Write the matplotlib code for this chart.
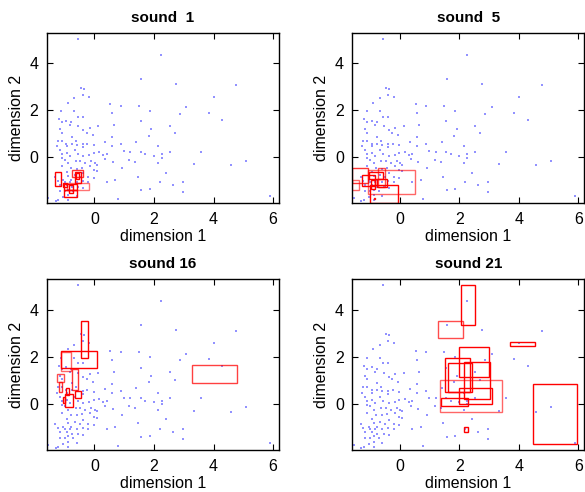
import matplotlib
matplotlib.use("Agg")
import matplotlib.pyplot as plt
from matplotlib.patches import Rectangle

plt.rcParams['font.family'] = ['Liberation Sans', 'DejaVu Sans']

# scatter cloud (same in every panel)
pts_x = [-0.56, -0.45, -0.36,
         -0.90, -0.68, -0.39, -0.19, 0.53, -1.11, -0.68, 0.58, -0.56, -0.39, -1.19, -0.94, -1.10, -0.78,
         -0.82, -0.54, -0.15, 0.13, 0.66, -1.16, -0.37, -0.26, -1.10, -0.06, -0.76, 0.58, -1.24, -1.10,
         -0.63, -0.95, -0.75, -0.60, -0.39, -0.24, -0.03, 0.34, 0.58, -1.27, -0.92, -0.39,
         -1.16, -1.10, -0.92, -0.82, -0.65, -0.56, -0.37, -0.17, -0.03, 0.16, 0.30, 0.41, 0.36, -1.10,
         -0.99, -0.88, -0.62, -0.48, -0.31, -0.11, 0.02, 0.08, 0.62, -1.10, -0.80, -0.60, -0.43, -0.15,
         -0.03, 0.08, -0.37, -0.93, -0.65, -0.88, -0.50, -0.20, -0.03, -1.32, -1.05, -0.78, -1.24, -0.99,
         -0.82, -0.60, -0.40, -0.20, 0.41, 0.70, -1.16, -0.93, -0.76, -0.54, -0.37, -1.16, -0.99, -0.88,
         -0.71, -0.88, -0.60, -1.04, -1.21, -1.55, -1.29, -0.88,
         2.24, 1.58, 2.75, 4.76, 4.00, 0.88, 1.49, 3.09, 1.87, 2.87, 3.84, 4.30,
         1.55, 1.91, 2.54, 1.83, 2.70, 0.88, 1.41, 2.15, 0.99, 1.20, 1.55, 1.71, 2.00, 2.26, 2.54, 2.26,
         1.17, 1.37, 2.15, 3.34, 0.91, 2.41, 1.46, 2.20, 2.96, 2.63, 1.87, 1.58, 2.96, 0.78,
         3.58, 5.09, 4.59, 5.88]
pts_y = [5.03, 2.95, 2.91,
         2.33, 2.52, 2.66, 2.57, 2.27, 1.96, 1.96, 1.88, 1.74, 1.74, 1.63, 1.57, 1.49, 1.49,
         1.36, 1.33, 1.26, 1.32, 1.36, 1.20, 1.15, 1.06, 1.06, 0.95, 0.89, 0.85, 0.72, 0.72,
         0.71, 0.58, 0.58, 0.54, 0.57, 0.58, 0.51, 0.64, 0.47, 0.47, 0.47, 0.43,
         0.32, 0.14, 0.18, 0.04, 0.32, 0.14, 0.04, 0.11, 0.18, 0.21, 0.11, 0.14, -0.06, -0.03,
         -0.10, -0.24, -0.17, -0.17, -0.24, -0.17, -0.24, -0.31, -0.20, -0.38, -0.46, -0.48, -0.43, -0.38,
         -0.53, -0.60, -0.67, -0.63, -0.74, -0.81, -0.85, -0.85, -0.88, -0.84, -0.95, -0.95, -1.02, -1.05,
         -1.05, -1.06, -1.02, -1.06, -1.06, -0.95, -1.16, -1.18, -1.28, -1.28, -1.31, -1.42, -1.42, -1.37,
         -1.45, -1.59, -1.63, -1.70, -1.80, -1.73, -1.85, -1.80,
         4.37, 3.35, 3.13, 3.09, 2.57, 2.20, 2.20, 2.14, 1.99, 1.87, 1.89, 1.60,
         1.55, 1.19, 1.35, 0.92, 1.03, 0.55, 0.67, 0.47, 0.28, 0.24, 0.24, 0.13, 0.07, 0.13, 0.24, -0.01,
         -0.09, -0.18, -0.23, -0.28, -0.44, -0.65, -0.82, -1.04, -1.04, -1.19, -1.33, -1.40, -1.49, -1.76,
         0.24, -0.14, -0.34, -1.66]

titles = ["sound  1", "sound  5", "sound 16", "sound 21"]

# rectangles: (x0, y0, x1, y1, alpha)
rects_1 = [(-1.31, -1.21, -1.11, -0.61, 1.0), (-0.74, -0.82, -0.39, -0.54, 0.8),
           (-0.66, -1.11, -0.44, -0.61, 1.0), (-0.62, -0.94, -0.51, -0.68, 1.0),
           (-1.07, -1.28, -0.91, -1.08, 1.0), (-1.02, -1.39, -0.60, -1.13, 1.0),
           (-0.91, -1.39, -0.17, -1.11, 0.55), (-1.01, -1.67, -0.60, -1.39, 1.0),
           (-0.84, -1.50, -0.71, -1.19, 1.0)]
rects_5 = [(-1.61, -1.11, -1.07, -0.43, 0.8), (-1.62, -1.39, -1.36, -0.96, 0.6),
           (-1.27, -1.22, -0.85, -0.75, 1.0), (-1.07, -1.56, 0.51, -0.54, 0.6),
           (-0.99, -1.96, -0.05, -1.18, 1.0), (-1.05, -0.94, -0.57, -0.61, 1.0),
           (-0.74, -1.25, -0.51, -0.47, 0.7), (-0.76, -1.28, -0.42, -0.94, 1.0),
           (-0.97, -1.36, -0.82, -0.96, 1.0), (-0.88, -1.78, -0.82, -1.71, 1.0)]
rects_16 = [(-0.44, 1.94, -0.22, 3.53, 1.0), (-1.11, 1.53, 0.08, 2.26, 1.0),
            (-1.11, 1.42, -0.80, 2.21, 0.6), (-1.25, 0.95, -1.01, 1.26, 0.7),
            (-1.19, 0.51, -1.10, 0.95, 0.8), (-0.75, 0.61, -0.56, 1.49, 0.8),
            (-0.64, 0.26, -0.44, 0.57, 1.0), (-0.94, 0.40, -0.84, 0.68, 1.0),
            (-0.98, -0.11, -0.73, 0.41, 1.0), (-1.07, 0.04, -0.98, 0.30, 1.0),
            (3.28, 0.89, 4.80, 1.67, 0.75)]
rects_21 = [(2.07, 3.33, 2.54, 5.06, 1.0), (1.27, 2.78, 2.11, 3.53, 0.7),
            (3.70, 2.48, 4.53, 2.62, 1.0), (1.98, 1.15, 2.99, 2.43, 1.0),
            (1.53, 0.50, 2.37, 1.94, 1.0), (1.61, 0.50, 2.44, 1.74, 1.0),
            (2.15, 0.21, 3.04, 1.79, 1.0), (1.36, -0.33, 3.42, 1.01, 0.6),
            (1.98, 0.00, 3.08, 0.68, 1.0), (1.39, -0.06, 2.28, 0.26, 1.0),
            (4.49, -1.69, 5.94, 0.85, 1.0), (2.16, -1.18, 2.28, -0.95, 1.0)]
all_rects = [rects_1, rects_5, rects_16, rects_21]

fig = plt.figure(figsize=(5.85, 4.92), dpi=100)
positions = [[0.080, 0.587, 0.397, 0.346], [0.602, 0.587, 0.397, 0.346],
             [0.080, 0.085, 0.397, 0.348], [0.602, 0.085, 0.397, 0.348]]

for pos, title, rects in zip(positions, titles, all_rects):
    ax = fig.add_axes(pos)
    ax.scatter(pts_x, pts_y, s=1.3, marker='s', color='#4a4aff', alpha=0.6, linewidths=0)
    for (x0, y0, x1, y1, a) in rects:
        ax.add_patch(Rectangle((x0, y0), x1 - x0, y1 - y0, fill=False,
                               edgecolor='red', linewidth=1.0, alpha=a))
    ax.set_xlim(-1.6, 6.2)
    ax.set_ylim(-1.95, 5.3)
    ax.set_xticks([0, 2, 4, 6])
    ax.set_yticks([0, 2, 4])
    ax.tick_params(direction='in', top=True, right=True, length=4, width=0.8,
                   labelsize=11.5, pad=6)
    for sp in ax.spines.values():
        sp.set_linewidth(1.0)
    ax.set_title(title, fontsize=11, fontweight='bold', pad=8)
    ax.set_xlabel("dimension 1", fontsize=11.5, labelpad=2)
    ax.set_ylabel("dimension 2", fontsize=11.5, labelpad=4)

fig.savefig("out.png", dpi=100)
